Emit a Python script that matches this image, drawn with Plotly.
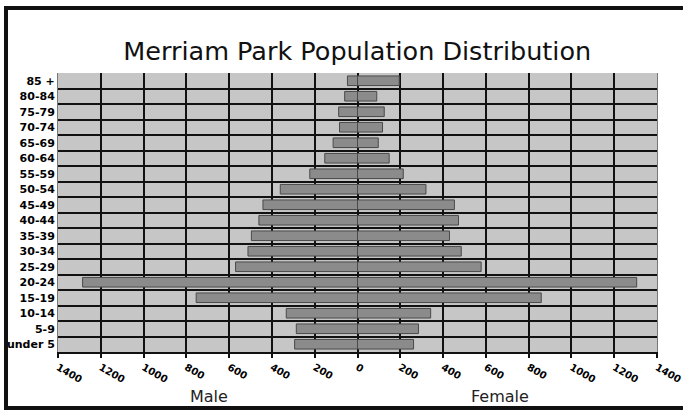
import plotly.graph_objects as go

age_groups = ["85 +", "80-84", "75-79", "70-74", "65-69", "60-64", "55-59", "50-54",
              "45-49", "40-44", "35-39", "30-34", "25-29", "20-24", "15-19", "10-14",
              "5-9", "under 5"]
male = [47, 60, 88, 84, 114, 153, 223, 361, 442, 461, 496, 512, 570, 1285, 754, 333, 286, 294]
female = [195, 90, 125, 117, 97, 148, 214, 320, 453, 472, 430, 485, 578, 1305, 859, 342, 285, 262]
x_ticks = list(range(-1400, 1401, 200))
x_ticktext = [str(abs(v)) for v in x_ticks]

bar_style = dict(color="#8b8b8b", line=dict(color="#4a4a4a", width=1))

fig = go.Figure()
fig.add_trace(go.Bar(y=age_groups, x=[-v for v in male], orientation="h",
                     marker=bar_style, width=0.62, name="Male"))
fig.add_trace(go.Bar(y=age_groups, x=female, orientation="h",
                     marker=bar_style, width=0.62, name="Female"))

fig.update_layout(
    width=683, height=411,
    margin=dict(l=58, r=26, t=73, b=59, autoexpand=False),
    paper_bgcolor="white", plot_bgcolor="#c6c6c6",
    barmode="overlay", showlegend=False,
    font=dict(family="DejaVu Sans", color="black"),
    title=dict(text="Merriam Park Population Distribution", x=0.523, xanchor="center",
               y=0.875, yanchor="middle", yref="container",
               font=dict(size=25.5, family="DejaVu Sans", color="#111")),
    xaxis=dict(range=[-1400, 1400], tickvals=x_ticks, ticktext=x_ticktext,
               tickangle=30, tickfont=dict(size=10, weight="bold"), automargin=False,
               ticklabeloverflow="allow",
               showgrid=True, gridcolor="#111", gridwidth=2,
               zeroline=True, zerolinecolor="#111", zerolinewidth=2,
               ticks="outside", ticklen=4, tickcolor="#111", tickwidth=2,
               showline=True, linecolor="#111", linewidth=2, fixedrange=True),
    yaxis=dict(type="category", categoryorder="array", categoryarray=age_groups,
               autorange="reversed", tickson="boundaries", showgrid=True,
               gridcolor="#111", gridwidth=2, ticks="", automargin=False,
               ticklabeloverflow="allow",
               tickfont=dict(size=11, weight="bold"),
               showline=True, linecolor="#777", linewidth=1, mirror=True,
               fixedrange=True),
    annotations=[
        dict(text="Male", xref="paper", yref="paper", x=0.252, y=-0.161,
             showarrow=False, font=dict(size=16, color="#222"), xanchor="center", yanchor="middle"),
        dict(text="Female", xref="paper", yref="paper", x=0.738, y=-0.161,
             showarrow=False, font=dict(size=16, color="#222"), xanchor="center", yanchor="middle"),
    ],
    shapes=[
        dict(type="path", xref="paper", yref="paper", layer="above",
             path="M 1.2,1.233 L -0.0868,1.233 L -0.0868,-0.2007 L 1.2,-0.2007",
             line=dict(color="#111", width=4)),
    ],
)

fig.write_html("out.html", config={"displayModeBar": False},
               post_script="document.body.style.margin='0';")
